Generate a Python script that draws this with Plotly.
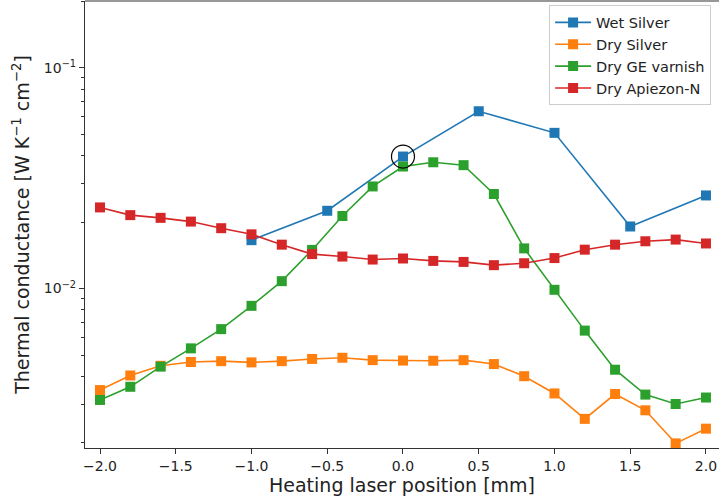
import plotly.graph_objects as go

x_full = [-2.0, -1.8, -1.6, -1.4, -1.2, -1.0, -0.8, -0.6, -0.4, -0.2, 0.0,
          0.2, 0.4, 0.6, 0.8, 1.0, 1.2, 1.4, 1.6, 1.8, 2.0]
x_wet = [-1.0, -0.5, 0.0, 0.5, 1.0, 1.5, 2.0]

wet_silver = [0.01656, 0.0225, 0.0396, 0.0635, 0.0507, 0.0191, 0.0264]
dry_silver = [0.00347, 0.00404, 0.00447, 0.00465, 0.00469, 0.00463, 0.00469,
              0.00480, 0.00486, 0.00474, 0.00472, 0.00471, 0.00474, 0.00455,
              0.00401, 0.00335, 0.00257, 0.00333, 0.00281, 0.00199, 0.00232]
dry_ge = [0.00313, 0.00359, 0.00443, 0.00536, 0.00655, 0.00835, 0.01080,
          0.01496, 0.0213, 0.0290, 0.0357, 0.0373, 0.0362, 0.0268, 0.0152,
          0.00987, 0.00645, 0.00429, 0.00331, 0.00300, 0.00321]
dry_apiezon = [0.0233, 0.0215, 0.0209, 0.0201, 0.01876, 0.0176, 0.0158,
               0.01432, 0.01396, 0.01353, 0.01368, 0.01334, 0.0132, 0.01276,
               0.01302, 0.01374, 0.0150, 0.0158, 0.01637, 0.01666, 0.0160]

highlight_x = [0.0]
highlight_y = [0.0396]

x_ticks = [-2.0, -1.5, -1.0, -0.5, 0.0, 0.5, 1.0, 1.5, 2.0]
x_ticktext = ["\u22122.0", "\u22121.5", "\u22121.0", "\u22120.5", "0.0", "0.5", "1.0", "1.5", "2.0"]
y_ticks = [0.01, 0.1]
y_ticktext = ["10<sup>\u22122</sup>", "10<sup>\u22121</sup>"]
y_minor = [0.002, 0.003, 0.004, 0.005, 0.006, 0.007, 0.008, 0.009,
           0.02, 0.03, 0.04, 0.05, 0.06, 0.07, 0.08, 0.09, 0.2]

series = [
    ("Wet Silver", x_wet, wet_silver, "#1f77b4"),
    ("Dry Silver", x_full, dry_silver, "#ff7f0e"),
    ("Dry GE varnish", x_full, dry_ge, "#2ca02c"),
    ("Dry Apiezon-N", x_full, dry_apiezon, "#d62728"),
]

fig = go.Figure()
for name, xs, ys, col in series:
    fig.add_trace(go.Scatter(
        x=xs, y=ys, name=name, mode="lines+markers",
        line=dict(color=col, width=1.6),
        marker=dict(symbol="square", size=10, color=col),
    ))

fig.add_trace(go.Scatter(
    x=highlight_x, y=highlight_y, mode="markers", showlegend=False,
    marker=dict(symbol="circle-open", size=23, color="black", line=dict(width=1.2)),
    hoverinfo="skip",
))

font_family = "DejaVu Sans"
fig.update_layout(
    width=719, height=499,
    margin=dict(l=85, r=0, t=1, b=51),
    paper_bgcolor="white", plot_bgcolor="white",
    font=dict(family=font_family, color="#222222"),
    showlegend=True,
    legend=dict(
        x=0.732, y=0.99, xanchor="left", yanchor="top",
        bgcolor="rgba(255,255,255,0.8)", bordercolor="#cccccc", borderwidth=1,
        font=dict(size=14.5, family=font_family, color="#222222"),
        tracegroupgap=0, itemwidth=36,
    ),
    xaxis=dict(
        range=[-2.099, 2.086],
        tickvals=x_ticks, ticktext=x_ticktext,
        ticks="outside", ticklen=5, tickwidth=1, tickcolor="#333333",
        showline=True, linecolor="#333333", linewidth=1.2, mirror=False,
        showgrid=False, zeroline=False,
        tickfont=dict(size=14),
        title=dict(text="Heating laser position [mm]", font=dict(size=19), standoff=4),
    ),
    yaxis=dict(
        type="log",
        range=[-2.722, -0.698],
        tickvals=y_ticks, ticktext=y_ticktext,
        ticks="outside", ticklen=5, tickwidth=1, tickcolor="#333333",
        minor=dict(tickvals=y_minor, ticks="outside", ticklen=3, tickwidth=0.8, tickcolor="#333333", showgrid=False),
        showline=True, linecolor="#333333", linewidth=1.2, mirror=False,
        showgrid=False, zeroline=False,
        tickfont=dict(size=14),
        title=dict(text="Thermal conductance [W K<sup>\u22121</sup> cm<sup>\u22122</sup>]", font=dict(size=19), standoff=9),
    ),
)
# top spine
fig.add_shape(type="line", xref="paper", yref="paper", x0=0, x1=1, y0=1, y1=1,
              line=dict(color="#333333", width=1.2))

fig.write_html("out.html", config={"displayModeBar": False},
               post_script="document.body.style.margin='0';document.body.style.padding='0';")
